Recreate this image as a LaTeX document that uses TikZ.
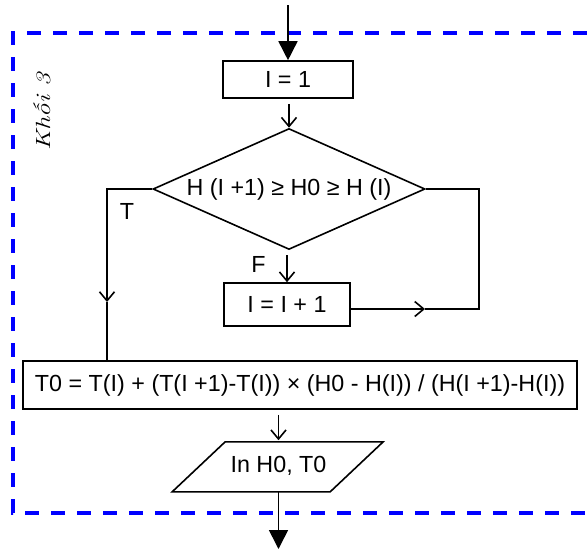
\documentclass[tikz,border=0pt]{standalone}
\usepackage{fontspec}
\newfontfamily\arialfont{Liberation Sans}
\usetikzlibrary{arrows.meta,shapes.geometric}

\begin{document}
\begin{tikzpicture}[x=1pt,y=-1pt,line width=1.6pt]
\useasboundingbox (0,0) rectangle (587,549);

% Dashed frame round the block
\draw[blue,line width=4pt,dash pattern=on 14pt off 12pt] (587,33) -- (13,33) -- (13,513) -- (587,513);
\node[rotate=90,font=\fontsize{20.5}{24}\selectfont\itshape] (blk) at (42,112) {\scalebox{1.3}[1]{Khối 3}};

\tikzstyle{flow}=[-{Straight Barb[length=9pt,width=15pt]}]
\tikzstyle{bigflow}=[-{Triangle[length=19pt,width=19pt]}]

% Process boxes
\tikzstyle{every node}=[draw,shape=rectangle,inner sep=0pt,anchor=center,font=\arialfont\fontsize{23.3}{27}\selectfont];
\node[minimum width=130pt,minimum height=37pt] (i1) at (288,79.5) {I = 1};
\node[minimum width=126pt,minimum height=43pt] (inc) at (287,304.5) {I = I + 1};
\node[minimum width=554pt,minimum height=48pt] (t0) at (300,385) {T0 = T(I) + (T(I +1)-T(I)) × (H0 - H(I)) / (H(I +1)-H(I))};

% Test
\tikzstyle{every node}=[draw,shape=diamond,aspect=2.25,inner sep=0pt,minimum width=272pt,minimum height=121pt,anchor=center,font=\arialfont\fontsize{23.3}{27}\selectfont];
\node (cond) at (289,189) {H (I +1) ≥ H0 ≥ H (I)};

% Output, the parallelogram is drawn round the node
\tikzstyle{every node}=[shape=rectangle,inner sep=0pt,minimum width=211pt,minimum height=50pt,anchor=center,font=\arialfont\fontsize{23.3}{27}\selectfont];
\node (out) at (278.5,466) {In H0, T0};
\draw (out.south west) -- ++(53,-50) -- ++(158,0) -- ++(-53,50) -- cycle;

% Branch labels
\tikzstyle{every node}=[anchor=center,font=\arialfont\fontsize{23.3}{27}\selectfont];
\node (lt) at (127,211) {T};
\node (lf) at (258.5,264.5) {F};

% Entry and exit of the block
\coordinate (entry) at (288,5);
\coordinate (exit) at (278.5,549);
\draw[bigflow] (entry) -- (i1.north);
\draw[bigflow] (out.south) -- (exit);

% Straight links down the chart
\foreach \a/\b in {i1/cond,cond/inc,t0/out}
  \draw[flow,shorten <=5pt] (\b.north |- \a.south) -- (\b.north);

% True branch on the left
\coordinate (tl) at (107,189);
\coordinate (tarr) at (107,302);
\draw[flow] (cond.west) -- (tl) -- (tarr);
\draw (tarr) -- (tarr |- t0.north);

% Loop back on the right
\coordinate (fr) at (479,189);
\coordinate (farr) at (425,309);
\draw[flow] (inc.east |- farr) -- (farr);
\draw (farr) -| (fr) -- (cond.east);

\end{tikzpicture}
\end{document}
